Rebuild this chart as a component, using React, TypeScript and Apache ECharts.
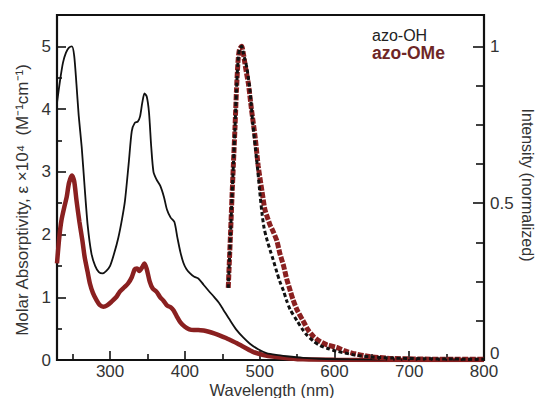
import React, { useEffect, useRef } from "react";
import * as echarts from "echarts";

// Absorption spectra: [wavelength nm, molar absorptivity ×10^4]
const absOH: number[][] = [
  [229, 4.1], [233, 4.45], [237, 4.74], [241, 4.9], [245, 4.98], [249, 5.0], [252, 4.85], [255, 4.4],
  [258, 3.9], [262, 3.4], [266, 2.75], [270, 2.15], [275, 1.7], [280, 1.5], [285, 1.4], [290, 1.38],
  [295, 1.42], [300, 1.5], [305, 1.68], [311, 1.95], [316, 2.25], [320, 2.55], [325, 3.15], [329, 3.65],
  [333, 3.78], [337, 3.8], [340, 3.88], [343, 4.1], [346, 4.25], [349, 4.2], [352, 3.95], [355, 3.4],
  [358, 3.0], [362, 2.88], [367, 2.78], [372, 2.6], [376, 2.4], [381, 2.27], [386, 2.2], [390, 1.95],
  [394, 1.72], [398, 1.55], [402, 1.45], [407, 1.38], [412, 1.33], [418, 1.3], [425, 1.2], [432, 1.1],
  [438, 1.02], [445, 0.92], [451, 0.81], [460, 0.64], [469, 0.48], [478, 0.36], [487, 0.26], [498, 0.17],
  [509, 0.11], [522, 0.08], [536, 0.06], [558, 0.035], [580, 0.02], [620, 0.01], [700, 0.003], [800, 0],
];
const absOMe: number[][] = [
  [229, 1.54], [232, 1.95], [235, 2.23], [239, 2.45], [242, 2.6], [245, 2.82], [249, 2.94], [252, 2.85],
  [255, 2.55], [259, 2.2], [263, 1.9], [266, 1.64], [270, 1.4], [273, 1.22], [277, 1.07], [282, 0.95],
  [286, 0.88], [291, 0.85], [296, 0.87], [302, 0.93], [308, 1.0], [313, 1.09], [319, 1.16], [324, 1.22],
  [329, 1.32], [333, 1.45], [336, 1.46], [339, 1.42], [343, 1.48], [346, 1.54], [349, 1.45], [353, 1.25],
  [357, 1.14], [362, 1.09], [367, 1.0], [371, 0.95], [376, 0.87], [381, 0.84], [385, 0.79], [389, 0.7],
  [394, 0.6], [400, 0.53], [406, 0.49], [412, 0.48], [418, 0.48], [425, 0.47], [432, 0.45], [440, 0.42],
  [447, 0.39], [455, 0.35], [462, 0.31], [469, 0.27], [480, 0.2], [491, 0.13], [505, 0.08], [520, 0.05],
  [540, 0.025], [558, 0.01], [600, 0.004], [800, 0],
];
// Emission spectra: [wavelength nm, normalized intensity]
const emOMe: number[][] = [
  [458, 0.23], [461, 0.4], [463, 0.52], [465, 0.63], [467, 0.74], [469, 0.86], [471, 0.95], [473, 0.99],
  [476, 1.0], [478, 0.98], [480, 0.95], [482, 0.92], [485, 0.88], [489, 0.8], [494, 0.71], [498, 0.62],
  [503, 0.54], [507, 0.48], [511, 0.45], [514, 0.43], [518, 0.41], [523, 0.38], [527, 0.34], [532, 0.3],
  [536, 0.26], [541, 0.22], [545, 0.19], [550, 0.16], [558, 0.125], [565, 0.095], [572, 0.075], [580, 0.06],
  [590, 0.048], [603, 0.04], [615, 0.028], [625, 0.021], [647, 0.011], [670, 0.006], [692, 0.004],
  [720, 0.003], [760, 0.002], [800, 0.002],
];
const emOH: number[][] = [
  [458, 0.23], [461, 0.4], [463, 0.52], [465, 0.63], [467, 0.74], [469, 0.86], [471, 0.95], [473, 0.99],
  [476, 1.0], [478, 0.98], [480, 0.96], [483, 0.93], [487, 0.86], [491, 0.75], [496, 0.64], [500, 0.54],
  [503, 0.47], [506, 0.42], [509, 0.39], [514, 0.35], [518, 0.32], [523, 0.28], [527, 0.25], [532, 0.22],
  [536, 0.19], [541, 0.16], [550, 0.125], [558, 0.095], [563, 0.08], [572, 0.06], [581, 0.046],
  [592, 0.036], [603, 0.028], [625, 0.017], [647, 0.01], [680, 0.006], [720, 0.004], [760, 0.003], [800, 0.002],
];

const seriesNames = ["azo-OH", "azo-OMe"];
const xMajor = [300, 400, 500, 600, 700, 800];
const xMinor = [250, 350, 450, 550, 650, 750];
const yLeftMajor = [0, 1, 2, 3, 4, 5];
const yLeftMinor = [0.5, 1.5, 2.5, 3.5, 4.5];
const yRightMajor = [0, 0.5, 1];
const yRightMinor = [0.125, 0.25, 0.375, 0.625, 0.75, 0.875];

const xTitle = "Wavelength (nm)";
const yLeftTitle = "Molar Absorptivity, ε ×10⁴  (M⁻¹cm⁻¹)";
const yRightTitle = "Intensity (normalized)";

const FONT = "'Liberation Sans', Arial, Helvetica, sans-serif";
const RED = "#8a2020";
const AXIS = "#111";
const TXT = "#333";

export default function App() {
  const ref = useRef<HTMLDivElement>(null);
  useEffect(() => {
    document.body.style.margin = "0";
    if (!ref.current) return;
    const chart = echarts.init(ref.current, null, { renderer: "svg" });
    const tickLabel = { fontSize: 17, color: TXT, fontFamily: FONT };
    const hidden = { show: false };
    chart.setOption({
      animation: false,
      backgroundColor: "#fff",
      grid: { left: 57, right: 54, top: 15, bottom: 38, show: true, borderColor: AXIS, borderWidth: 2.2, backgroundColor: "transparent" },
      xAxis: [
        {
          type: "value", min: 229, max: 800, position: "bottom",
          axisLine: { show: true, lineStyle: { color: AXIS, width: 2 } },
          axisTick: { show: true, inside: true, length: 9, customValues: xMajor, lineStyle: { color: AXIS, width: 1.6 } },
          axisLabel: { ...tickLabel, margin: 3, customValues: xMajor },
          splitLine: hidden,
        },
        {
          type: "value", min: 229, max: 800, position: "bottom",
          axisLine: hidden, axisLabel: hidden, splitLine: hidden,
          axisTick: { show: true, inside: true, length: 6, customValues: xMinor, lineStyle: { color: AXIS, width: 1.6 } },
        },
      ],
      yAxis: [
        {
          type: "value", min: 0, max: 5.5, position: "left",
          axisLine: { show: true, lineStyle: { color: AXIS, width: 2 } },
          axisTick: { show: true, inside: true, length: 9, customValues: yLeftMajor, lineStyle: { color: AXIS, width: 1.6 } },
          axisLabel: { ...tickLabel, margin: 6, customValues: yLeftMajor },
          splitLine: hidden,
        },
        {
          type: "value", min: 0, max: 1.1, position: "right",
          axisLine: { show: true, lineStyle: { color: AXIS, width: 2 } },
          axisTick: { show: true, inside: true, length: 11, customValues: yRightMajor, lineStyle: { color: AXIS, width: 1.6 } },
          axisLabel: {
            ...tickLabel, margin: 6, customValues: yRightMajor,
            formatter: (v: number) => (v === 0 ? "{z|0}" : String(v)),
            rich: { z: { fontSize: 17, color: TXT, fontFamily: FONT, padding: [0, 0, 13, 0] } },
          },
          splitLine: hidden,
        },
        {
          type: "value", min: 0, max: 5.5, position: "left",
          axisLine: hidden, axisLabel: hidden, splitLine: hidden,
          axisTick: { show: true, inside: true, length: 5, customValues: yLeftMinor, lineStyle: { color: AXIS, width: 1.6 } },
        },
        {
          type: "value", min: 0, max: 1.1, position: "right",
          axisLine: hidden, axisLabel: hidden, splitLine: hidden,
          axisTick: { show: true, inside: true, length: 8, customValues: yRightMinor, lineStyle: { color: AXIS, width: 1.6 } },
        },
      ],
      series: [
        {
          name: seriesNames[1] + " abs", type: "line", data: absOMe, xAxisIndex: 0, yAxisIndex: 0,
          showSymbol: false, smooth: 0.25, lineStyle: { color: RED, width: 4.5 }, z: 2,
        },
        {
          name: seriesNames[0] + " abs", type: "line", data: absOH, xAxisIndex: 0, yAxisIndex: 0,
          showSymbol: false, smooth: 0.25, lineStyle: { color: "#111", width: 1.8 }, z: 3,
        },
        {
          name: seriesNames[1] + " em", type: "line", data: emOMe, xAxisIndex: 0, yAxisIndex: 1,
          showSymbol: false, smooth: 0.25, lineStyle: { color: RED, width: 5, type: [6, 1.5] }, z: 4,
        },
        {
          name: seriesNames[0] + " em", type: "line", data: emOH, xAxisIndex: 0, yAxisIndex: 1,
          showSymbol: false, smooth: 0.25, lineStyle: { color: "#111", width: 3, type: [4, 2.5] }, z: 5,
        },
      ],
      graphic: [
        {
          type: "text", x: 22, y: 200, rotation: Math.PI / 2,
          style: { text: yLeftTitle, fontSize: 17, fontFamily: FONT, fill: TXT, align: "center", verticalAlign: "middle" },
        },
        {
          type: "text", x: 527, y: 185, rotation: -Math.PI / 2,
          style: { text: yRightTitle, fontSize: 16, fontFamily: FONT, fill: TXT, align: "center", verticalAlign: "middle" },
        },
        {
          type: "text", x: 272, y: 389.5,
          style: { text: xTitle, fontSize: 16.5, fontFamily: FONT, fill: TXT, align: "center", verticalAlign: "middle" },
        },
        {
          type: "text", x: 372, y: 35,
          style: { text: seriesNames[0], fontSize: 16, fontFamily: FONT, fill: "#222", align: "left", verticalAlign: "middle" },
        },
        {
          type: "text", x: 372, y: 53,
          style: { text: seriesNames[1], fontSize: 17.5, fontWeight: "bold", fontFamily: FONT, fill: "#6e2626", align: "left", verticalAlign: "middle" },
        },
      ],
    });
    return () => chart.dispose();
  }, []);
  return <div ref={ref} style={{ width: 538, height: 398 }} />;
}
